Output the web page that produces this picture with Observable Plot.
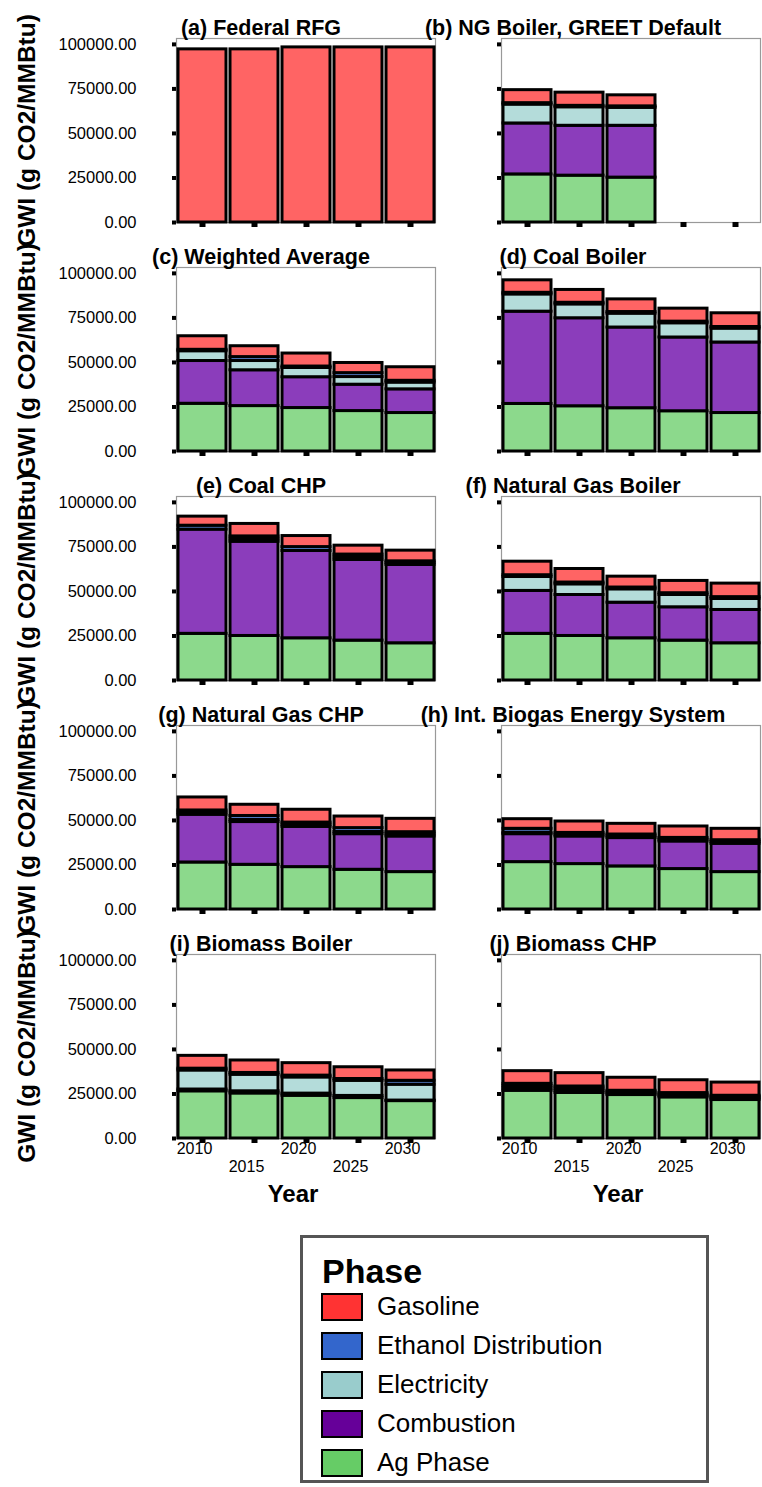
<!DOCTYPE html>
<html>
<head>
<meta charset="utf-8">
<script src="https://cdn.jsdelivr.net/npm/d3@7"></script>
<script src="https://cdn.jsdelivr.net/npm/@observablehq/plot@0.6"></script>
<style>
  body { margin: 0; background: #fff; font-family: "Liberation Sans", Arial, sans-serif; }
  #wrap { position: relative; width: 762px; height: 1487px; overflow: hidden; }
  #chart { position: absolute; left: 0; top: 0; }
  #legend { position: absolute; left: 300px; top: 1235px; width: 409px; height: 248px; box-sizing: border-box; border: 3px solid #555; background: #fff; }
  #legend .lt { position: absolute; left: 19px; top: 16px; font-weight: bold; font-size: 34px; line-height: 34px; }
  #legend .items { position: absolute; left: 0; top: 49px; }
  #legend .li { height: 39px; display: flex; align-items: center; font-size: 26px; }
  #legend .sw { display: inline-block; width: 42px; height: 28px; box-sizing: border-box; border: 2.5px solid #000; margin-left: 18px; margin-right: 14px; }
</style>
</head>
<body>
<div id="wrap"><div id="chart"></div><div id="legend"></div></div>
<script>
const years = [2010, 2015, 2020, 2025, 2030];
const yTicks = [0, 25000, 50000, 75000, 100000];
const panelTitles = [
  "(a) Federal RFG", "(b) NG Boiler, GREET Default",
  "(c) Weighted Average", "(d) Coal Boiler",
  "(e) Coal CHP", "(f) Natural Gas Boiler",
  "(g) Natural Gas CHP", "(h) Int. Biogas Energy System",
  "(i) Biomass Boiler", "(j) Biomass CHP"
];
// stacking order, bottom to top
const phases = ["Ag Phase", "Combustion", "Electricity", "Ethanol Distribution", "Gasoline"];
const legendOrder = ["Gasoline", "Ethanol Distribution", "Electricity", "Combustion", "Ag Phase"];
const legendColors = ["#ff3333", "#3366cc", "#99cccc", "#660099", "#66cc66"];
const barColors = ["#8cd98c", "#8b3dbb", "#b4dcda", "#5a86d6", "#ff6464"];

// g CO2/MMBtu, one row per panel (a..j), one column per year
const agPhase = [
  [null, null, null, null, null],
  [27000, 26300, 25200, null, null],
  [26800, 25500, 24400, 22700, 21600],
  [26700, 25400, 24300, 22600, 21600],
  [26200, 25000, 23700, 22400, 20900],
  [26200, 25000, 23700, 22400, 20900],
  [26400, 25100, 23800, 22300, 21000],
  [26600, 25500, 24200, 22700, 21000],
  [26500, 25300, 24000, 22700, 21000],
  [26800, 25600, 24400, 23100, 21600]
];
const combustion = [
  [null, null, null, null, null],
  [28600, 28000, 29100, null, null],
  [24000, 20100, 17300, 14800, 13300],
  [51800, 49400, 45300, 41400, 39600],
  [58500, 52900, 49000, 45300, 44000],
  [24100, 23000, 20000, 18700, 18700],
  [26800, 24000, 22600, 20000, 20000],
  [15700, 15500, 15900, 15500, 15900],
  [1000, 1200, 1200, 1200, 300],
  [1300, 1200, 800, 800, 800]
];
const electricity = [
  [null, null, null, null, null],
  [10600, 10400, 10100, null, null],
  [5500, 5200, 5200, 4300, 3800],
  [9700, 7800, 7800, 8000, 7800],
  [null, 1500, null, 1500, 1000],
  [7800, 6000, 7500, 6900, 6200],
  [1200, 1200, 1200, 1200, 1200],
  [800, 1000, 1000, 1000, 1000],
  [10700, 9300, 9100, 8500, 8900],
  [1300, 1200, 800, 800, 800]
];
const ethanolDistribution = [
  [null, null, null, null, null],
  [800, 800, 800, null, null],
  [800, 2200, 800, 2200, 1000],
  [900, 900, 900, 900, 900],
  [2200, 1500, 2200, 1500, 1000],
  [1000, 1000, 1000, 1000, 1000],
  [1200, 2200, 1200, 2200, 1200],
  [2200, 1000, 1000, 1000, 1000],
  [1000, 1000, 1000, 1000, 2200],
  [1300, 1200, 800, 800, 800]
];
const gasoline = [
  [97200, 97200, 98300, 98300, 98300],
  [7300, 7400, 6200, null, null],
  [7600, 6100, 7300, 5700, 7600],
  [7000, 7200, 7100, 7300, 7700],
  [5100, 7000, 6200, 5000, 6000],
  [7600, 7600, 6100, 6900, 7600],
  [7300, 6300, 7200, 6500, 7500],
  [5400, 6400, 6000, 6400, 6400],
  [7200, 7000, 7000, 6600, 5800],
  [7100, 7500, 7300, 7200, 7400]
];

const seriesByPhase = [agPhase, combustion, electricity, ethanolDistribution, gasoline];
const data = [];
panelTitles.forEach((t, i) => {
  phases.forEach((ph, p) => {
    years.forEach((yr, j) => {
      const v = seriesByPhase[p][i][j];
      if (v != null && v > 0) data.push({col: i % 2, row: Math.floor(i / 2), year: yr, phase: ph, value: v});
    });
  });
});
const titleData = panelTitles.map((t, i) => ({t, col: i % 2, row: Math.floor(i / 2)}));
const rows = [0, 1, 2, 3, 4];
const cols = [0, 1];
const font = '"Liberation Sans", Arial, sans-serif';

const chart = Plot.plot({
  width: 762,
  height: 1220,
  marginLeft: 176,
  marginRight: 1,
  marginTop: 38,
  marginBottom: 82,
  style: {fontFamily: font, fontSize: "16px", color: "black", background: "white", overflow: "visible"},
  fx: {domain: cols, paddingInner: 0.2025, paddingOuter: 0, axis: null, label: null},
  fy: {domain: rows, paddingInner: 0.197, paddingOuter: 0, axis: null, label: null},
  x: {type: "band", domain: years, paddingInner: 0.08, paddingOuter: 0.03},
  y: {domain: [0, 103300]},
  color: {domain: phases, range: barColors},
  marks: [
    Plot.frame({stroke: "#999", strokeWidth: 1.2}),
    Plot.barY(data, Plot.stackY({
      x: "year", y: "value", fill: "phase", fx: "col", fy: "row",
      order: phases, stroke: "black", strokeWidth: 3
    })),
    // tick squares on every panel
    Plot.axisX({facetAnchor: null, fill: "none", tickSize: 5, strokeWidth: 6, label: null}),
    Plot.axisY({facetAnchor: null, ticks: yTicks, fill: "none", tickSize: 4, strokeWidth: 4, label: null}),
    // y tick labels on left column
    Plot.axisY({facetAnchor: "left", ticks: yTicks, tickSize: 0, tickPadding: 40,
      tickFormat: d3.format(".2f"), label: null, fontSize: 16.5}),
    // staggered x tick labels on bottom row
    Plot.axisX({facetAnchor: "bottom", ticks: [2010, 2020, 2030], tickSize: 0, tickPadding: 4,
      tickFormat: d => String(d), dx: -8, label: null, fontSize: 16}),
    Plot.axisX({facetAnchor: "bottom", ticks: [2015, 2025], tickSize: 0, tickPadding: 22,
      tickFormat: d => String(d), dx: -8, label: null, fontSize: 16}),
    // panel titles
    Plot.text(titleData.filter(d => d.col === 0), {fx: "col", fy: "row", text: "t", frameAnchor: "top",
      textAnchor: "middle", lineAnchor: "bottom", dy: -4, dx: -45, fontWeight: "bold", fontSize: 21.5}),
    Plot.text(titleData.filter(d => d.col === 1), {fx: "col", fy: "row", text: "t", frameAnchor: "top",
      textAnchor: "middle", lineAnchor: "bottom", dy: -4, dx: -58, fontWeight: "bold", fontSize: 21.5}),
    // y axis titles
    Plot.text(rows, {fx: () => 0, fy: d => d, text: () => "GWI (g CO2/MMBtu)", frameAnchor: "left",
      rotate: -90, textAnchor: "middle", lineAnchor: "middle", dx: -149, fontWeight: "bold", fontSize: 24.5}),
    // x axis titles
    Plot.text(cols, {fx: d => d, fy: () => 4, text: () => "Year", frameAnchor: "bottom",
      textAnchor: "middle", lineAnchor: "middle", dy: 56, dx: -13, fontWeight: "bold", fontSize: 24})
  ]
});
document.getElementById("chart").appendChild(chart);

const legend = document.getElementById("legend");
legend.innerHTML = '<div class="lt">Phase</div><div class="items">' +
  legendOrder.map((p, i) => `<div class="li"><span class="sw" style="background:${legendColors[i]}"></span><span>${p}</span></div>`).join("") +
  '</div>';
</script>
</body>
</html>
